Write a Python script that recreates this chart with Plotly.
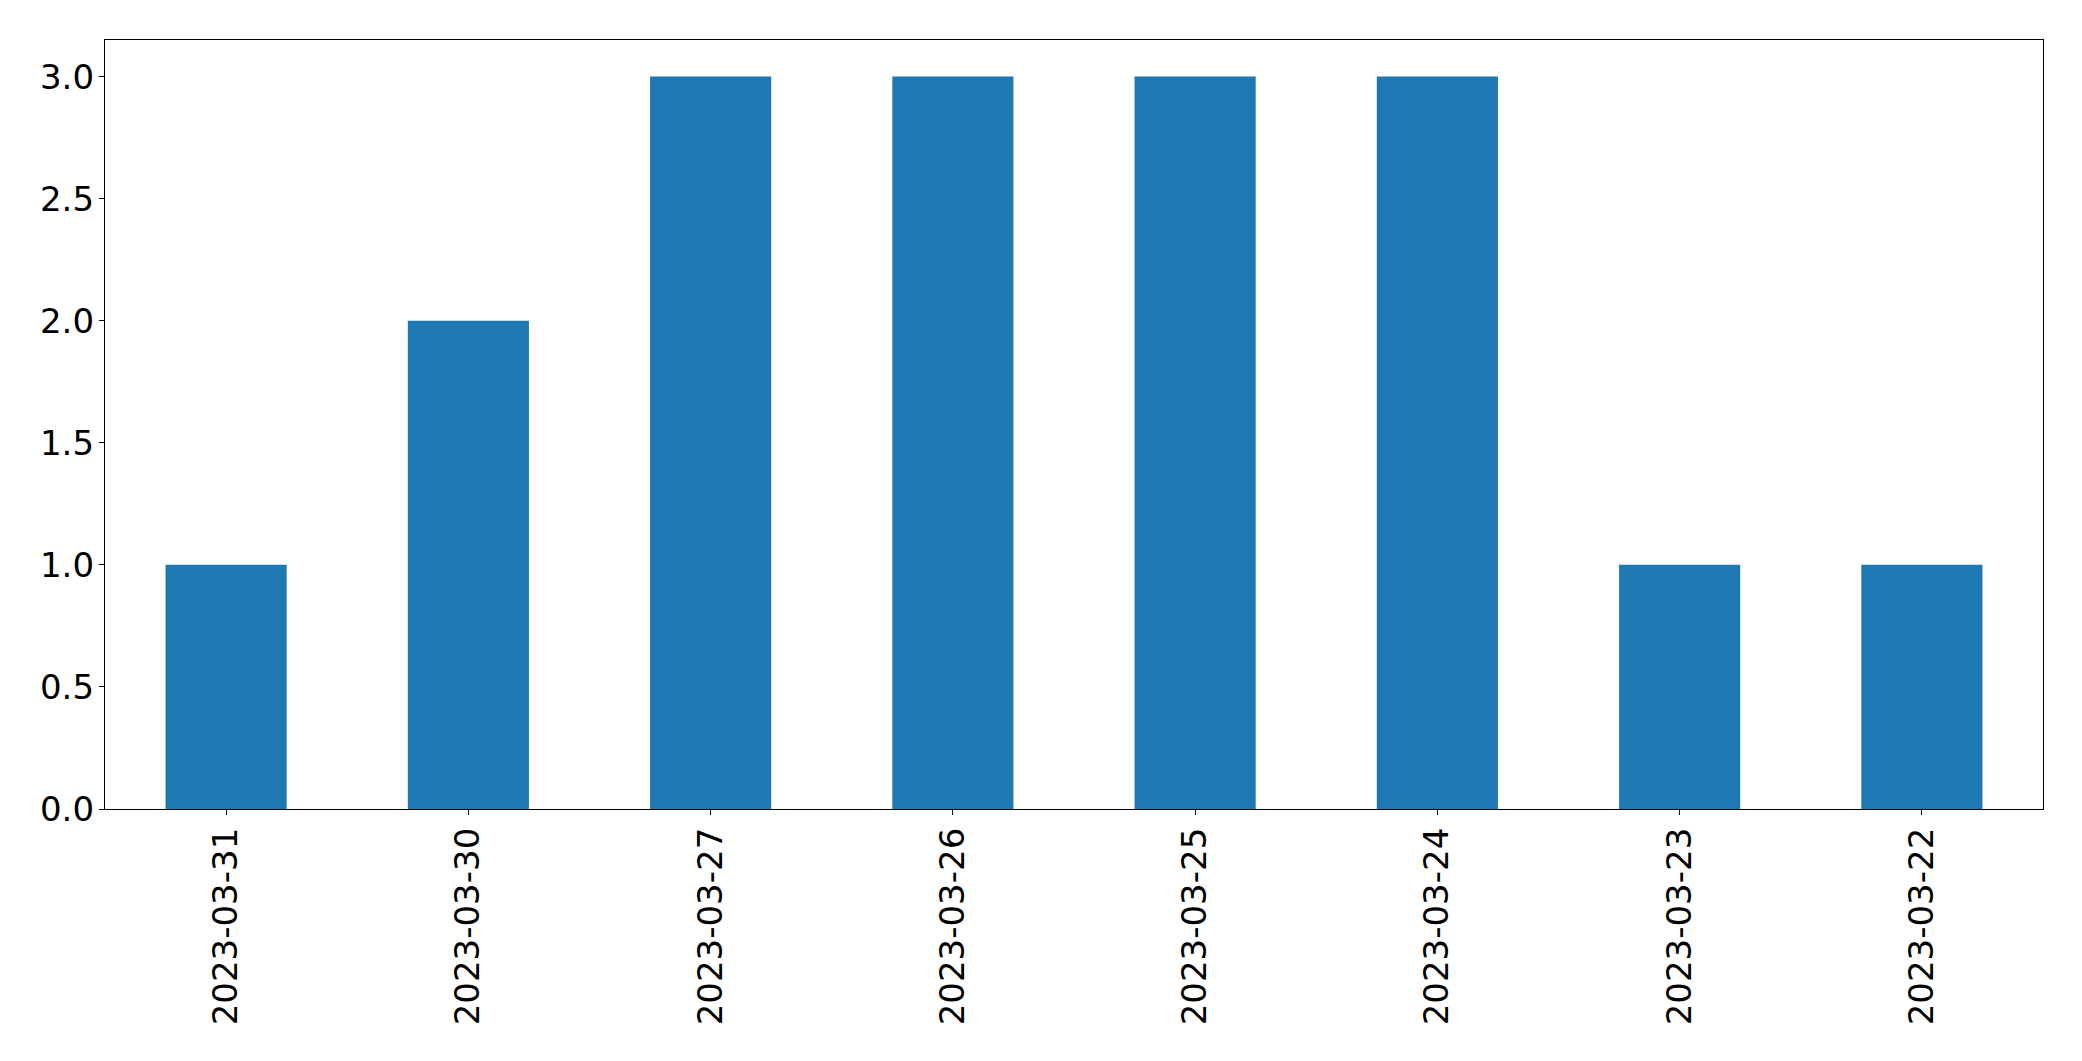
import plotly.graph_objects as go

dates = ["2023-03-31", "2023-03-30", "2023-03-27", "2023-03-26",
         "2023-03-25", "2023-03-24", "2023-03-23", "2023-03-22"]
counts = [1, 2, 3, 3, 3, 3, 1, 1]

fig = go.Figure(go.Bar(x=dates, y=counts, marker_color="#1f77b4",
                       marker_line_width=0, width=0.5))

font = dict(family="DejaVu Sans", size=34, color="black")
fig.update_layout(
    width=2074, height=1053,
    margin=dict(l=97, r=39, t=32, b=252, autoexpand=False),
    plot_bgcolor="white", paper_bgcolor="white",
    showlegend=False, font=font, bargap=0.5,
)
fig.update_xaxes(type="category", range=[-0.5, 7.5], tickangle=-90,
                 showline=True, linecolor="black", linewidth=1.3, mirror=True,
                 ticks="outside", ticklen=5, tickcolor="black", tickwidth=1.3,
                 showgrid=False, zeroline=False, tickfont=font,
                 ticklabelstandoff=-1, automargin=False)
fig.update_yaxes(range=[0, 3.15], tickvals=[0, 0.5, 1, 1.5, 2, 2.5, 3],
                 ticktext=["0.0", "0.5", "1.0", "1.5", "2.0", "2.5", "3.0"],
                 showline=True, linecolor="black", linewidth=1.3, mirror=True,
                 ticks="outside", ticklen=5, tickcolor="black", tickwidth=1.3,
                 showgrid=False, zeroline=False, tickfont=font, automargin=False,
                 ticklabelstandoff=-2)

fig.write_html("out.html")
